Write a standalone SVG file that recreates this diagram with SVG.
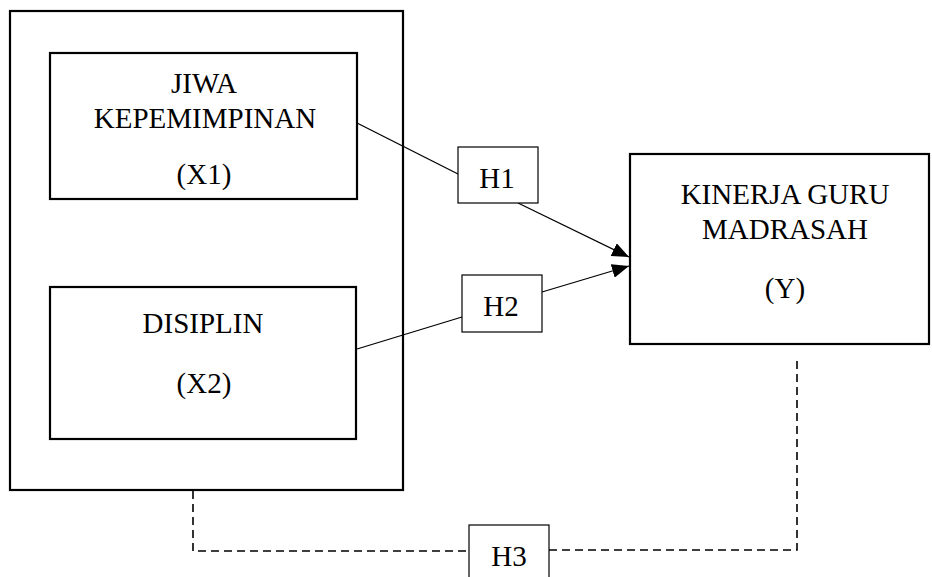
<svg xmlns="http://www.w3.org/2000/svg" width="932" height="577" viewBox="0 0 932 577">
<style>
.box{fill:#fff;stroke:#000;stroke-width:2.2}
.hbox{fill:#fff;stroke:#000;stroke-width:1.2}
text{font-family:'Liberation Serif',serif;font-size:29px;fill:#000;text-anchor:middle}
.ln{stroke:#000;stroke-width:1.3;fill:none}
.dash{stroke:#000;stroke-width:1.6;fill:none;stroke-dasharray:8 5}
</style>
<defs>
<marker id="arr" markerUnits="userSpaceOnUse" markerWidth="18" markerHeight="14" refX="17" refY="7" orient="auto">
<path d="M0,0 L17,7 L0,14 Z" fill="#000"/>
</marker>
</defs>
<g id="group-x">
<rect class="box" x="10" y="11" width="393" height="479"/>
</g>
<g id="node-x1" font-family="Liberation Serif, serif">
<rect class="box" x="50" y="53" width="307" height="146"/>
<text x="204" y="93">JIWA</text>
<text x="205" y="128">KEPEMIMPINAN</text>
<text x="204" y="184">(X1)</text>
</g>
<g id="node-x2" font-family="Liberation Serif, serif">
<rect class="box" x="50" y="287" width="306" height="152"/>
<text x="203" y="333">DISIPLIN</text>
<text x="204" y="393">(X2)</text>
</g>
<g id="node-y" font-family="Liberation Serif, serif">
<rect class="box" x="630" y="154" width="299" height="190"/>
<text x="785" y="204">KINERJA GURU</text>
<text x="785" y="239">MADRASAH</text>
<text x="785" y="298">(Y)</text>
</g>
<g id="connectors">
<line class="ln" x1="357" y1="123" x2="458" y2="174"/>
<line class="ln" x1="518" y1="203" x2="629" y2="257" marker-end="url(#arr)"/>
<line class="ln" x1="357" y1="349" x2="462" y2="317"/>
<line class="ln" x1="542" y1="292" x2="629" y2="266" marker-end="url(#arr)"/>
<path class="dash" d="M193,491 V551 H469"/>
<path class="dash" d="M549,550 H797 V358"/>
</g>
<g id="node-h1" font-family="Liberation Serif, serif">
<rect class="hbox" x="458" y="147" width="80" height="56"/>
<text x="497" y="188">H1</text>
</g>
<g id="node-h2" font-family="Liberation Serif, serif">
<rect class="hbox" x="462" y="275" width="80" height="57"/>
<text x="501" y="316">H2</text>
</g>
<g id="node-h3" font-family="Liberation Serif, serif">
<rect class="hbox" x="469" y="525" width="80" height="60"/>
<text x="509" y="566">H3</text>
</g>
</svg>
